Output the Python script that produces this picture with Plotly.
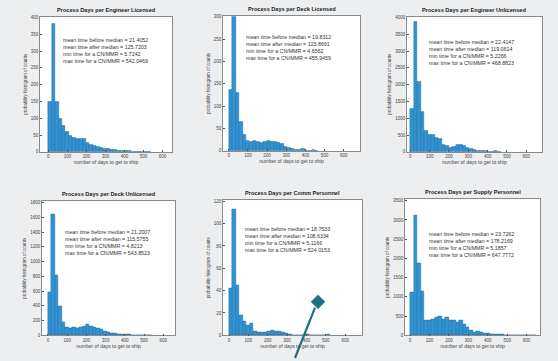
import plotly.graph_objects as go

W, H = 558, 361
BIN_WIDTH = 18

titles = [
    "Process Days per Engineer Licensed",
    "Process Days per Deck Licensed",
    "Process Days per Engineer Unlicensed",
    "Process Days per Deck Unlicensed",
    "Process Days per Comm Personnel",
    "Process Days per Supply Personnel",
]

counts_eng_lic = [150, 380, 150, 98, 78, 60, 48, 42, 40, 38, 40, 28, 22, 18, 15, 12, 10, 8,
                  6, 5, 4, 3, 3, 2, 1, 1, 1, 0, 1, 1]
counts_deck_lic = [136, 300, 129, 65, 36, 22, 20, 22, 21, 18, 20, 22, 21, 20, 19, 15, 10, 6,
                   5, 3, 2, 4, 1, 0, 2, 1]
counts_eng_unl = [1290, 3870, 2080, 1200, 620, 500, 520, 420, 380, 200, 180, 130, 150, 210,
                  220, 170, 120, 90, 60, 30, 20, 20, 15, 10, 20, 5]
counts_deck_unl = [580, 1640, 820, 400, 180, 110, 95, 110, 100, 110, 130, 150, 120, 115, 100,
                   80, 60, 45, 35, 25, 20, 15, 12, 10, 8, 6, 4, 3, 2, 1]
counts_comm = [42, 113, 45, 18, 13, 9, 11, 4, 3, 3, 3, 4, 5, 4, 4, 3, 2, 1, 0, 0, 0, 0, 1,
               0, 0, 0, 0, 0, 1]
counts_supply = [1110, 3120, 1880, 1150, 390, 380, 430, 470, 490, 430, 470, 390, 400, 340,
                 380, 300, 210, 130, 90, 110, 80, 60, 50, 40, 30, 25, 20, 15, 10, 8, 6, 4,
                 3, 2, 1, 1]

all_counts = [counts_eng_lic, counts_deck_lic, counts_eng_unl,
              counts_deck_unl, counts_comm, counts_supply]

stats = [
    ("21.4052", "125.7203", "5.7242", "542.0469"),
    ("19.8312", "123.8661", "4.6562", "455.9459"),
    ("22.4147", "119.0614", "5.2266", "468.8823"),
    ("21.2007", "115.5755", "4.8213", "543.8523"),
    ("18.7533", "108.6334", "5.1166", "524.0153"),
    ("23.7262", "178.2169", "5.1857", "647.7772"),
]

x_ranges = [[-44, 650], [-30, 685], [-17, 681], [-31, 661], [-31, 687], [-26, 669]]
x_ticks = [0, 100, 200, 300, 400, 500, 600]
y_ranges = [[0, 402], [0, 302], [0, 4020], [0, 1820], [0, 121], [0, 3540]]
y_dticks = [50, 50, 500, 200, 20, 500]

# plot-area boxes in pixels: left, right, top, bottom
boxes = [
    (40, 172, 15, 152),
    (223, 360, 14, 151),
    (407, 542, 15, 152),
    (42, 175, 202, 338),
    (223, 362, 201, 338),
    (405, 540, 200, 338),
]
# stats text anchor (left, top) in pixels
text_pos = [(61, 33), (244, 30), (427, 35), (63, 228), (243, 225), (427, 230)]

FONT = "Liberation Sans, Arial, sans-serif"
fig = go.Figure()
layout = {}
annotations = []

for i in range(6):
    n = i + 1
    xa = "x" if n == 1 else f"x{n}"
    ya = "y" if n == 1 else f"y{n}"
    c = all_counts[i]
    centers = [BIN_WIDTH * (k + 0.5) for k in range(len(c))]
    fig.add_trace(go.Bar(
        x=centers, y=c, width=BIN_WIDTH, xaxis=xa, yaxis=ya,
        marker=dict(color="#2f93d6", line=dict(color="#1b5f8e", width=0.4)),
        showlegend=False, hoverinfo="x+y",
    ))
    l, r, t, b = boxes[i]
    xk = "xaxis" if n == 1 else f"xaxis{n}"
    yk = "yaxis" if n == 1 else f"yaxis{n}"
    layout[xk] = dict(
        domain=[l / W, r / W], anchor=ya, range=x_ranges[i],
        tickvals=x_ticks, ticks="inside", ticklen=2, tickcolor="#555",
        showline=True, mirror=True, linecolor="#8a8a8a", linewidth=0.6,
        showgrid=False, zeroline=False,
        tickfont=dict(size=4.5, color="#444", family=FONT),
        title=dict(text="number of days to get to ship", standoff=2,
                   font=dict(size=5, color="#444", family=FONT)),
    )
    layout[yk] = dict(
        domain=[1 - b / H, 1 - t / H], anchor=xa, range=y_ranges[i],
        dtick=y_dticks[i], ticks="inside", ticklen=2, tickcolor="#555",
        showline=True, mirror=True, linecolor="#8a8a8a", linewidth=0.6,
        showgrid=False, zeroline=False,
        tickfont=dict(size=4.5, color="#444", family=FONT),
        title=dict(text="probability histogram of counts", standoff=3,
                   font=dict(size=4.5, color="#444", family=FONT)),
    )
    annotations.append(dict(
        x=(l + r) / 2 / W, y=1 - (t - 2) / H, xref="paper", yref="paper",
        xanchor="center", yanchor="bottom", showarrow=False,
        text=f"<b>{titles[i]}</b>", font=dict(size=5.6, color="#222", family=FONT),
    ))
    s = stats[i]
    txt = (f"mean time before median = {s[0]}<br>"
           f"mean time after median = {s[1]}<br>"
           f"min time for a CN/MMR = {s[2]}<br>"
           f"max time for a CN/MMR = {s[3]}")
    tx, ty = text_pos[i]
    annotations.append(dict(
        x=tx / W, y=1 - ty / H, xref="paper", yref="paper",
        xanchor="left", yanchor="top", align="left", showarrow=False,
        text=txt, font=dict(size=5.3, color="#333", family=FONT),
    ))

# pointer drawn over the photo (decoration)
shapes = [
    dict(type="line", xref="paper", yref="paper",
         x0=295 / W, y0=1 - 361 / H, x1=315 / W, y1=1 - 310 / H,
         line=dict(color="#1b6f88", width=2.2)),
    dict(type="path", xref="paper", yref="paper",
         path=(f"M {318/W} {1-297/H} L {325/W} {1-304/H} "
               f"L {318/W} {1-311/H} L {311/W} {1-304/H} Z"),
         fillcolor="#1b6f88", line=dict(color="#1b6f88", width=0.5)),
]

fig.update_layout(
    width=W, height=H, margin=dict(l=0, r=0, t=0, b=0),
    paper_bgcolor="#eceef0", plot_bgcolor="white",
    bargap=0, annotations=annotations, shapes=shapes,
    font=dict(family=FONT), **layout,
)

fig.write_html(
    "out.html",
    config={"displayModeBar": False},
    post_script="document.body.style.margin='0';document.body.style.overflow='hidden';",
)
